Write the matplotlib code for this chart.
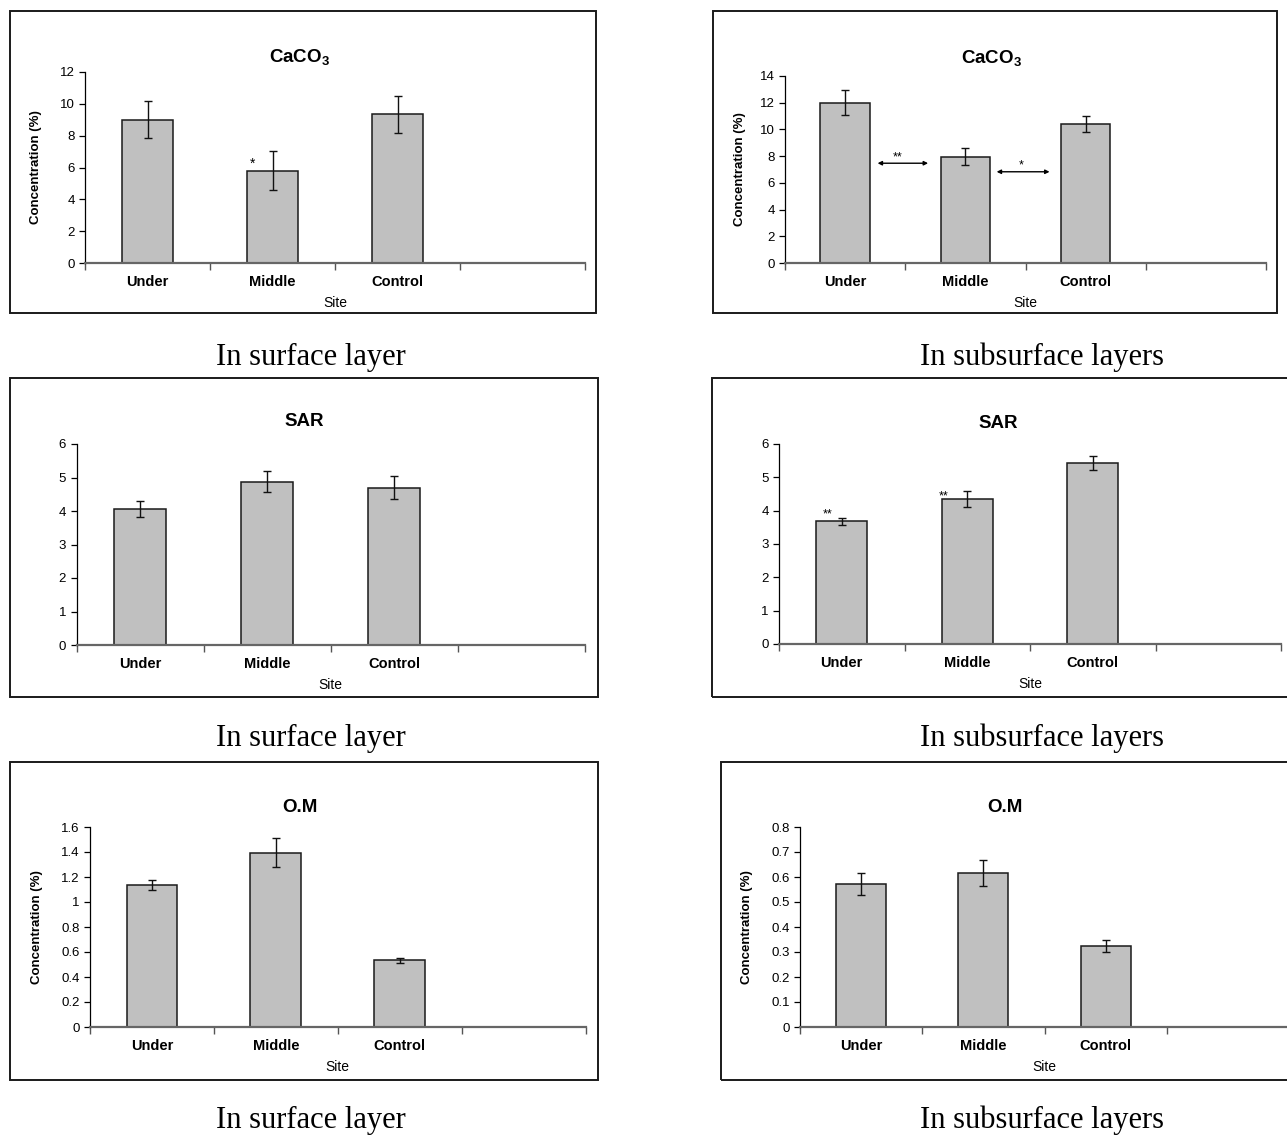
import matplotlib
matplotlib.use("Agg")
import matplotlib.pyplot as plt
from matplotlib.patches import Rectangle
from matplotlib.ticker import MultipleLocator, FuncFormatter

plt.rcParams['font.family'] = ['Liberation Sans', 'DejaVu Sans']

# ---------------- data ----------------
categories = ['Under', 'Middle', 'Control']

caco3_surface = [9.0, 5.8, 9.33]
caco3_surface_err = [1.17, 1.22, 1.14]

caco3_sub = [12.0, 7.97, 10.41]
caco3_sub_err = [0.92, 0.67, 0.62]

sar_surface = [4.06, 4.88, 4.70]
sar_surface_err = [0.25, 0.30, 0.35]

sar_sub = [3.68, 4.36, 5.43]
sar_sub_err = [0.10, 0.24, 0.22]

om_surface = [1.14, 1.395, 0.533]
om_surface_err = [0.04, 0.118, 0.018]

om_sub = [0.573, 0.617, 0.325]
om_sub_err = [0.044, 0.053, 0.024]

caption_surface = 'In surface layer'
caption_sub = 'In subsurface layers'
ylabel_text = 'Concentration (%)'
xlabel_text = 'Site'

W, H = 1287, 1137
fig = plt.figure(figsize=(W / 100, H / 100), dpi=100)

plt.rcParams['mathtext.fontset'] = 'custom'
plt.rcParams['mathtext.bf'] = 'Liberation Sans:bold'
plt.rcParams['mathtext.rm'] = 'Liberation Sans'
plt.rcParams['mathtext.default'] = 'bf'


def frac_rect(x0, y0, x1, y1):
    return [x0 / W, 1 - y1 / H, (x1 - x0) / W, (y1 - y0) / H]


def fx(x):
    return x / W


def fy(y):
    return 1 - y / H


def panel(axes_px, box_px, values, errs, ymax, ystep, title, title_xy,
          ylabel_x=None, fmt='%g'):
    bx0, by0, bx1, by1 = box_px
    fig.patches.append(Rectangle((fx(bx0), fy(by1)), (bx1 - bx0) / W, (by1 - by0) / H,
                                 transform=fig.transFigure, fill=False,
                                 edgecolor='#1a1a1a', linewidth=1.4, zorder=0))
    ax = fig.add_axes(frac_rect(*axes_px))
    x = list(range(len(values)))
    ax.bar(x, values, width=0.41, color='#c0c0c0', edgecolor='#1a1a1a',
           linewidth=1.1, zorder=2)
    ax.errorbar(x, values, yerr=errs, fmt='none', ecolor='#111111',
                elinewidth=1.0, capsize=3, capthick=1.0, zorder=3)
    ax.set_xlim(-0.5, 3.5)
    ax.set_ylim(0, ymax)
    ax.yaxis.set_major_locator(MultipleLocator(ystep))
    ax.yaxis.set_major_formatter(FuncFormatter(lambda v, p: fmt % round(v, 6)))
    ax.set_xticks([-0.5, 0.5, 1.5, 2.5, 3.5])
    ax.set_xticklabels([])
    ax.set_xticks(x, minor=True)
    ax.set_xticklabels(categories, minor=True, fontweight='bold', fontsize=10.5)
    ax.tick_params(axis='x', which='minor', length=0, pad=8.5)
    ax.tick_params(axis='x', which='major', length=5, direction='out',
                   color='#555555', width=1.0)
    ax.tick_params(axis='y', length=4.5, direction='out', width=0.9,
                   labelsize=9.5, pad=3)
    for s in ('top', 'right'):
        ax.spines[s].set_visible(False)
    ax.spines['left'].set_linewidth(0.9)
    ax.spines['bottom'].set_color('#666666')
    ax.spines['bottom'].set_linewidth(1.6)
    ax.set_facecolor('none')
    ax.annotate(xlabel_text, xy=(0.5, 0), xycoords='axes fraction',
                xytext=(0, -40 / 1.389), textcoords='offset points',
                ha='center', va='center', fontsize=10)
    fig.text(fx(title_xy[0]), fy(title_xy[1]), title, ha='center', va='center',
             fontsize=13.5, fontweight='bold')
    if ylabel_x is not None:
        cy = (axes_px[1] + axes_px[3]) / 2
        fig.text(fx(ylabel_x), fy(cy), ylabel_text, rotation=90, ha='center',
                 va='center', fontsize=9.5, fontweight='bold')
    return ax


# Row 1: CaCO3
ax1 = panel((85, 72, 585, 263), (9.5, 11, 596, 313), caco3_surface, caco3_surface_err,
            12, 2, r'CaCO$_{3}$', (300, 57), ylabel_x=36)
ax1.text(0.84, 6.24, '*', ha='center', va='center', fontsize=10)

ax2 = panel((785, 76, 1266, 263), (712.7, 11, 1277, 313), caco3_sub, caco3_sub_err,
            14, 2, r'CaCO$_{3}$', (992, 58), ylabel_x=740)
ax2.annotate('', xy=(0.27, 7.47), xytext=(0.69, 7.47),
             arrowprops=dict(arrowstyle='<|-|>', color='black', lw=1.0,
                             mutation_scale=6, shrinkA=0, shrinkB=0))
ax2.text(0.44, 7.9, '**', ha='center', va='center', fontsize=9)
ax2.annotate('', xy=(1.26, 6.83), xytext=(1.70, 6.83),
             arrowprops=dict(arrowstyle='<|-|>', color='black', lw=1.0,
                             mutation_scale=6, shrinkA=0, shrinkB=0))
ax2.text(1.46, 7.3, '*', ha='center', va='center', fontsize=9)

# Row 2: SAR
ax3 = panel((76.5, 444, 585, 645), (9.6, 378, 598, 697), sar_surface, sar_surface_err,
            6, 1, 'SAR', (304, 422))
ax4 = panel((779, 444, 1281, 644), (712.4, 378, 1300, 697), sar_sub, sar_sub_err,
            6, 1, 'SAR', (998, 423))
ax4.text(-0.11, 3.88, '**', ha='center', va='center', fontsize=9)
ax4.text(0.815, 4.42, '**', ha='center', va='center', fontsize=9)

# Row 3: O.M
ax5 = panel((90, 827, 585.5, 1027), (9.6, 762, 598, 1080), om_surface, om_surface_err,
            1.6, 0.2, 'O.M', (300, 807), ylabel_x=37)
ax6 = panel((800, 827, 1289, 1027), (720.6, 762, 1300, 1080), om_sub, om_sub_err,
            0.8, 0.1, 'O.M', (1005, 807), ylabel_x=747)

# captions
for yc in (357, 738, 1120):
    fig.text(fx(311), fy(yc), caption_surface, ha='center', va='center',
             fontsize=22, family=['Liberation Serif', 'DejaVu Serif'])
    fig.text(fx(1042), fy(yc), caption_sub, ha='center', va='center',
             fontsize=22, family=['Liberation Serif', 'DejaVu Serif'])

fig.savefig('out.png', dpi=100, facecolor='white')
